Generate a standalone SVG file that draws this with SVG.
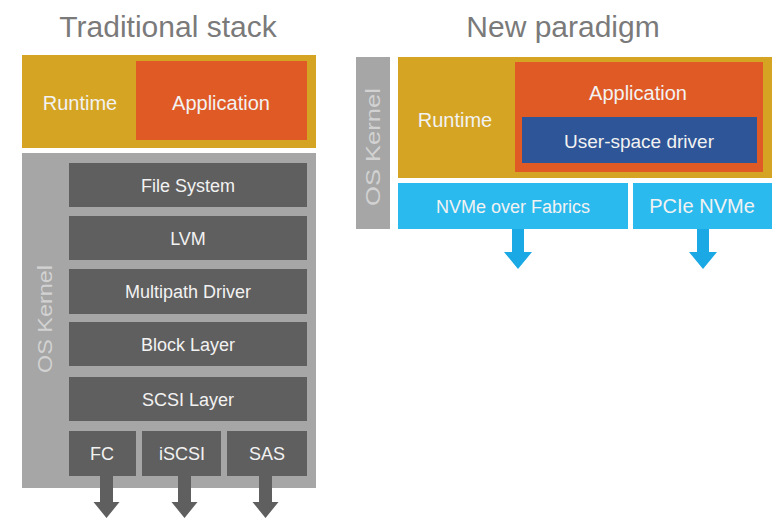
<svg xmlns="http://www.w3.org/2000/svg" width="773" height="518" viewBox="0 0 773 518">
<style>
.title{font-family:"Liberation Sans",Arial,sans-serif;font-size:30px;fill:#7a7a7a;text-anchor:middle}
.lbl{font-family:"Liberation Sans",Arial,sans-serif;fill:#f2f2f2;text-anchor:middle}
.k{font-family:"Liberation Sans",Arial,sans-serif;font-size:21px;fill:#d2d2d2;text-anchor:middle}
.gold{fill:#d5a423}
.orange{fill:#e05a25}
.navy{fill:#2d5597}
.sky{fill:#2abaee}
.kern{fill:#a6a6a6}
.layer{fill:#5f5f5f}
.garrow{fill:#5f5f5f}
.barrow{fill:#1aa9e4}
</style>
<rect width="773" height="518" fill="#ffffff"/>
<text class="title" x="168" y="37">Traditional stack</text>
<text class="title" x="563" y="37">New paradigm</text>

<g id="left-runtime">
<rect class="gold" x="22" y="55" width="294" height="93"/>
<text class="lbl" x="80" y="110" font-size="20">Runtime</text>
</g>
<g id="left-application">
<rect class="orange" x="136" y="61" width="171" height="79"/>
<text class="lbl" x="221" y="110" font-size="20">Application</text>
</g>
<g id="left-kernel">
<rect class="kern" x="22" y="153" width="294" height="335"/>
<text class="k" transform="translate(52,319) rotate(-90)" textLength="108" lengthAdjust="spacingAndGlyphs">OS Kernel</text>
</g>
<g id="file-system">
<rect class="layer" x="69" y="163" width="238" height="44"/>
<text class="lbl" x="188" y="192" font-size="18">File System</text>
</g>
<g id="lvm">
<rect class="layer" x="69" y="216" width="238" height="44"/>
<text class="lbl" x="188" y="245" font-size="18">LVM</text>
</g>
<g id="multipath-driver">
<rect class="layer" x="69" y="269" width="238" height="45"/>
<text class="lbl" x="188" y="298" font-size="18">Multipath Driver</text>
</g>
<g id="block-layer">
<rect class="layer" x="69" y="322" width="238" height="44"/>
<text class="lbl" x="188" y="351" font-size="18">Block Layer</text>
</g>
<g id="scsi-layer">
<rect class="layer" x="69" y="377" width="238" height="44"/>
<text class="lbl" x="188" y="406" font-size="18">SCSI Layer</text>
</g>
<g id="fc">
<rect class="layer" x="69" y="431" width="67" height="45"/>
<text class="lbl" x="102" y="460" font-size="18">FC</text>
</g>
<g id="iscsi">
<rect class="layer" x="142" y="431" width="79" height="45"/>
<text class="lbl" x="182" y="460" font-size="18">iSCSI</text>
</g>
<g id="sas">
<rect class="layer" x="227" y="431" width="80" height="45"/>
<text class="lbl" x="267" y="460" font-size="18">SAS</text>
</g>

<g id="right-kernel">
<rect class="kern" x="356" y="57" width="34" height="172"/>
<text class="k" transform="translate(380,147) rotate(-90)" textLength="118" lengthAdjust="spacingAndGlyphs">OS Kernel</text>
</g>
<g id="right-runtime">
<rect class="gold" x="398" y="57" width="374" height="121"/>
<text class="lbl" x="455" y="127" font-size="20">Runtime</text>
</g>
<g id="right-application">
<rect class="orange" x="515" y="62" width="248" height="110"/>
<text class="lbl" x="638" y="100" font-size="20">Application</text>
</g>
<g id="user-space-driver">
<rect class="navy" x="522" y="117" width="235" height="46"/>
<text class="lbl" x="639" y="148" font-size="19">User-space driver</text>
</g>
<g id="nvme-over-fabrics">
<rect class="sky" x="398" y="183" width="230" height="46"/>
<text class="lbl" x="513" y="213" font-size="18">NVMe over Fabrics</text>
</g>
<g id="pcie-nvme">
<rect class="sky" x="633" y="183" width="139" height="46"/>
<text class="lbl" x="702" y="213" font-size="20">PCIe NVMe</text>
</g>

<g id="connectors">
<path class="garrow" d="M100,476 H113 V502 H119.5 L106.5,518 L93.5,502 H100 Z"/>
<path class="garrow" d="M178,476 H191 V502 H197.5 L184.5,518 L171.5,502 H178 Z"/>
<path class="garrow" d="M259,476 H272 V502 H278.5 L265.5,518 L252.5,502 H259 Z"/>
<path class="barrow" d="M512,229 H524 V252 H532 L518,269 L504,252 H512 Z"/>
<path class="barrow" d="M697,229 H709 V252 H717 L703,269 L689,252 H697 Z"/>
</g>
</svg>
